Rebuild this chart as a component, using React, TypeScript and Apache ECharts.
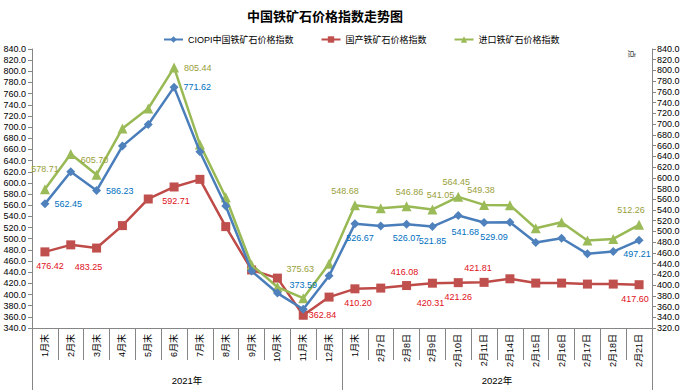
import React, { useEffect, useRef } from "react";
import * as echarts from "echarts";

const categories = [
  "1月末", "2月末", "3月末", "4月末", "5月末", "6月末", "7月末", "8月末", "9月末", "10月末", "11月末", "12月末",
  "1月末", "2月7日", "2月8日", "2月9日", "2月10日", "2月11日", "2月14日", "2月15日", "2月16日", "2月17日", "2月18日", "2月21日",
];
const yearGroups = ["2021年", "2022年"];

const ciopi = [562.45, 620.0, 586.23, 666.0, 704.8, 771.62, 655.8, 558.7, 442.0, 402.6, 373.59, 433.5,
  526.67, 522.9, 526.07, 521.85, 541.68, 529.09, 529.6, 493.1, 500.9, 472.9, 477.0, 497.21];
const domestic = [476.42, 489.0, 483.25, 523.5, 571.2, 592.71, 606.4, 521.7, 444.0, 429.4, 362.84, 395.4,
  410.2, 411.5, 416.08, 420.31, 421.26, 421.81, 428.2, 420.5, 420.5, 418.7, 418.7, 417.6];
const imported = [578.71, 644.2, 605.7, 691.9, 729.1, 805.44, 662.2, 563.6, 437.7, 396.3, 375.63, 439.6,
  548.68, 543.2, 546.86, 541.05, 564.45, 549.38, 549.0, 506.0, 517.1, 482.9, 486.1, 512.26];

const seriesNames = ["CIOPI中国铁矿石价格指数", "国产铁矿石价格指数", "进口铁矿石价格指数"];

// label placement (style only): index -> [position, offset]
const ciopiLabels: Record<number, [string, number[]]> = {
  0: ["right", [0, 0]], 2: ["right", [0, 0]], 5: ["right", [0, 0]], 10: ["top", [0, -10]],
  12: ["bottom", [5, 0]], 14: ["bottom", [0, 0]], 15: ["bottom", [0, 0]], 16: ["bottom", [7, 3]],
  17: ["bottom", [10, 0]], 23: ["bottom", [-2, 0]],
};
const domesticLabels: Record<number, [string, number[]]> = {
  0: ["bottom", [5, 0]], 2: ["bottom", [-8, 5]], 5: ["bottom", [2, 0]], 10: ["right", [-4, 0]],
  12: ["bottom", [3, 0]], 14: ["top", [-2, 0]], 15: ["bottom", [-2, 6]], 16: ["bottom", [0, 0]],
  17: ["top", [-6, 0]], 23: ["bottom", [-4, 0]],
};
const importedLabels: Record<number, [string, number[]]> = {
  0: ["top", [0, -6]], 2: ["top", [-2, 0]], 5: ["right", [0, 0]], 10: ["top", [-3, -15]],
  12: ["top", [-10, 0]], 14: ["top", [3, 0]], 15: ["top", [8, 0]], 16: ["top", [-2, 0]],
  17: ["top", [-3, 0]], 23: ["top", [-8, 0]],
};

const NUM_FONT = "'Liberation Sans', 'Noto Sans CJK SC', sans-serif";

function buildData(values: number[], labels: Record<number, [string, number[]]>) {
  return values.map((v, i) => {
    const l = labels[i];
    if (!l) return v;
    return { value: v, label: { show: true, position: l[0], offset: l[1] } };
  });
}

export default function App() {
  const ref = useRef<HTMLDivElement>(null);
  useEffect(() => {
    if (!ref.current) return;
    const chart = echarts.init(ref.current, undefined, { renderer: "svg" });
    const axisColor = "#868686";
    const labelFmt = (p: any) => Number(p.value).toFixed(2);
    chart.setOption({
      animation: false,
      backgroundColor: "#ffffff",
      title: {
        text: "中国铁矿石价格指数走势图",
        left: 242,
        top: 4,
        textStyle: { fontSize: 13, fontWeight: "bold", color: "#000", fontFamily: "'Noto Sans CJK SC', sans-serif" },
      },
      legend: {
        left: 158,
        top: 30,
        itemWidth: 19,
        itemHeight: 8,
        itemGap: 27,
        textStyle: { fontSize: 9, color: "#000", fontFamily: NUM_FONT },
        data: seriesNames,
      },
      graphic: [
        {
          type: "text",
          x: 636,
          y: 50,
          rotation: -Math.PI / 2,
          style: { text: "点", fontSize: 8, fill: "#333", fontFamily: "'Noto Sans CJK SC', sans-serif" },
        },
      ],
      grid: { left: 32, right: 34, top: 49, bottom: 62, containLabel: false },
      xAxis: [
        {
          type: "category",
          data: categories,
          boundaryGap: true,
          axisLine: { show: true, lineStyle: { color: axisColor, width: 1 } },
          axisTick: { show: true, interval: 0, length: 32, lineStyle: { color: axisColor } },
          axisLabel: { interval: 0, rotate: 90, fontSize: 9, margin: 6, color: "#000", fontFamily: NUM_FONT },
          splitLine: { show: false },
        },
        {
          type: "category",
          data: yearGroups,
          position: "bottom",
          offset: 32,
          boundaryGap: true,
          axisLine: { show: false },
          axisTick: { show: true, interval: 0, length: 30, lineStyle: { color: axisColor } },
          axisLabel: { interval: 0, fontSize: 9.5, margin: 16, color: "#000", fontFamily: NUM_FONT },
          splitLine: { show: false },
        },
      ],
      yAxis: [
        {
          type: "value",
          min: 340,
          max: 840,
          interval: 20,
          position: "left",
          axisLine: { show: true, lineStyle: { color: axisColor } },
          axisTick: { show: true, length: 4, lineStyle: { color: axisColor } },
          axisLabel: { fontSize: 9, margin: 6, color: "#000", fontFamily: NUM_FONT, formatter: (v: number) => v.toFixed(1) },
          splitLine: { show: false },
        },
        {
          type: "value",
          min: 320,
          max: 840,
          interval: 20,
          position: "right",
          axisLine: { show: true, lineStyle: { color: axisColor } },
          axisTick: { show: true, length: 4, lineStyle: { color: axisColor } },
          axisLabel: { fontSize: 9, margin: 5, color: "#000", fontFamily: NUM_FONT, formatter: (v: number) => v.toFixed(1) },
          splitLine: { show: false },
        },
      ],
      series: [
        {
          name: seriesNames[0],
          type: "line",
          yAxisIndex: 0,
          data: buildData(ciopi, ciopiLabels),
          symbol: "diamond",
          symbolSize: 9,
          lineStyle: { color: "#4A7EBB", width: 2.5 },
          itemStyle: { color: "#4F81BD" },
          label: { show: false, color: "#0070C0", fontSize: 9, fontFamily: NUM_FONT, formatter: labelFmt },
          z: 3,
        },
        {
          name: seriesNames[1],
          type: "line",
          yAxisIndex: 0,
          data: buildData(domestic, domesticLabels),
          symbol: "rect",
          symbolSize: 9,
          lineStyle: { color: "#BE4B48", width: 2.5 },
          itemStyle: { color: "#C0504D" },
          label: { show: false, color: "#E0101A", fontSize: 9, fontFamily: NUM_FONT, formatter: labelFmt },
          z: 2,
        },
        {
          name: seriesNames[2],
          type: "line",
          yAxisIndex: 1,
          data: buildData(imported, importedLabels),
          symbol: "triangle",
          symbolSize: 10,
          lineStyle: { color: "#98B954", width: 2.5 },
          itemStyle: { color: "#9BBB59" },
          label: { show: false, color: "#99A03A", fontSize: 9, fontFamily: NUM_FONT, formatter: labelFmt },
          z: 2,
        },
      ],
    });
    return () => chart.dispose();
  }, []);
  return <div ref={ref} style={{ position: "fixed", left: 0, top: 0, width: 686, height: 390 }} />;
}
